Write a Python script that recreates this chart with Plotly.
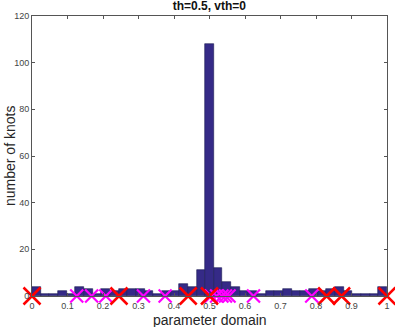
import plotly.graph_objects as go

# histogram counts, 41 equal bins on [0, 1]
counts = [4, 1, 1, 2, 1, 4, 3, 1, 3, 2, 3, 3, 3, 2, 1, 2, 2, 5, 4, 11,
          108, 12, 6, 4, 2, 2, 1, 2, 2, 3, 2, 2, 3, 2, 3, 4, 2, 1, 1, 1, 4]
red_knots = [0.0, 0.245, 0.44, 0.50, 0.83, 0.872, 1.0]
magenta_knots = [0.126, 0.168, 0.208, 0.314, 0.375, 0.505, 0.52, 0.535, 0.545,
                 0.555, 0.624, 0.788]
x_ticks = [0, 0.1, 0.2, 0.3, 0.4, 0.5, 0.6, 0.7, 0.8, 0.9, 1]
x_tick_labels = ["0", "0.1", "0.2", "0.3", "0.4", "0.5", "0.6", "0.7", "0.8", "0.9", "1"]
y_ticks = [0, 20, 40, 60, 80, 100, 120]

nb = len(counts)
w = 1.0 / nb
centers = [(i + 0.5) * w for i in range(nb)]

fig = go.Figure()
fig.add_trace(go.Bar(
    x=centers, y=counts, width=[w] * nb,
    marker=dict(color="#352a87", line=dict(color="#1a1a50", width=0.6)),
    showlegend=False,
))
fig.add_trace(go.Scatter(
    x=magenta_knots, y=[0] * len(magenta_knots), mode="markers",
    marker=dict(symbol="x-thin", size=13, line=dict(color="#ff00ff", width=2.2)),
    cliponaxis=False, showlegend=False,
))
fig.add_trace(go.Scatter(
    x=red_knots, y=[0] * len(red_knots), mode="markers",
    marker=dict(symbol="x-thin", size=17, line=dict(color="#ff0000", width=2.5)),
    cliponaxis=False, showlegend=False,
))

axis_color = "#555555"
fig.update_layout(
    width=395, height=327,
    margin=dict(l=32, r=8, t=16, b=31),
    paper_bgcolor="white", plot_bgcolor="white",
    font=dict(family="Liberation Sans, Arial, sans-serif", color="#262626"),
    title=dict(text="<b>th=0.5, vth=0</b>", x=0.53, xanchor="center", y=0.995,
               yanchor="top", font=dict(size=12, color="#111111")),
    bargap=0,
    xaxis=dict(
        range=[0, 1], tickvals=x_ticks, ticktext=x_tick_labels,
        ticks="inside", ticklen=3, tickcolor=axis_color,
        showline=True, linecolor=axis_color, linewidth=1, mirror="ticks",
        showgrid=False, zeroline=False, automargin=False,
        ticklabelstandoff=1,
        tickfont=dict(size=9, color="#444444"),
    ),
    yaxis=dict(
        range=[0, 120], tickvals=y_ticks,
        ticks="inside", ticklen=3, tickcolor=axis_color,
        showline=True, linecolor=axis_color, linewidth=1, mirror="ticks",
        showgrid=False, zeroline=False, automargin=False,
        tickfont=dict(size=9, color="#444444"),
    ),
    annotations=[
        dict(text="parameter domain", xref="paper", yref="paper", x=0.5, y=-0.084,
             xanchor="center", yanchor="middle", showarrow=False,
             font=dict(size=14, color="#262626")),
        dict(text="number of knots", xref="paper", yref="paper", x=-0.062, y=0.5,
             xanchor="center", yanchor="middle", showarrow=False, textangle=-90,
             font=dict(size=14, color="#262626")),
    ],
)

fig.write_html(
    "out.html",
    config={"displayModeBar": False},
    post_script="document.body.style.margin='0';document.body.style.overflow='hidden';",
)
